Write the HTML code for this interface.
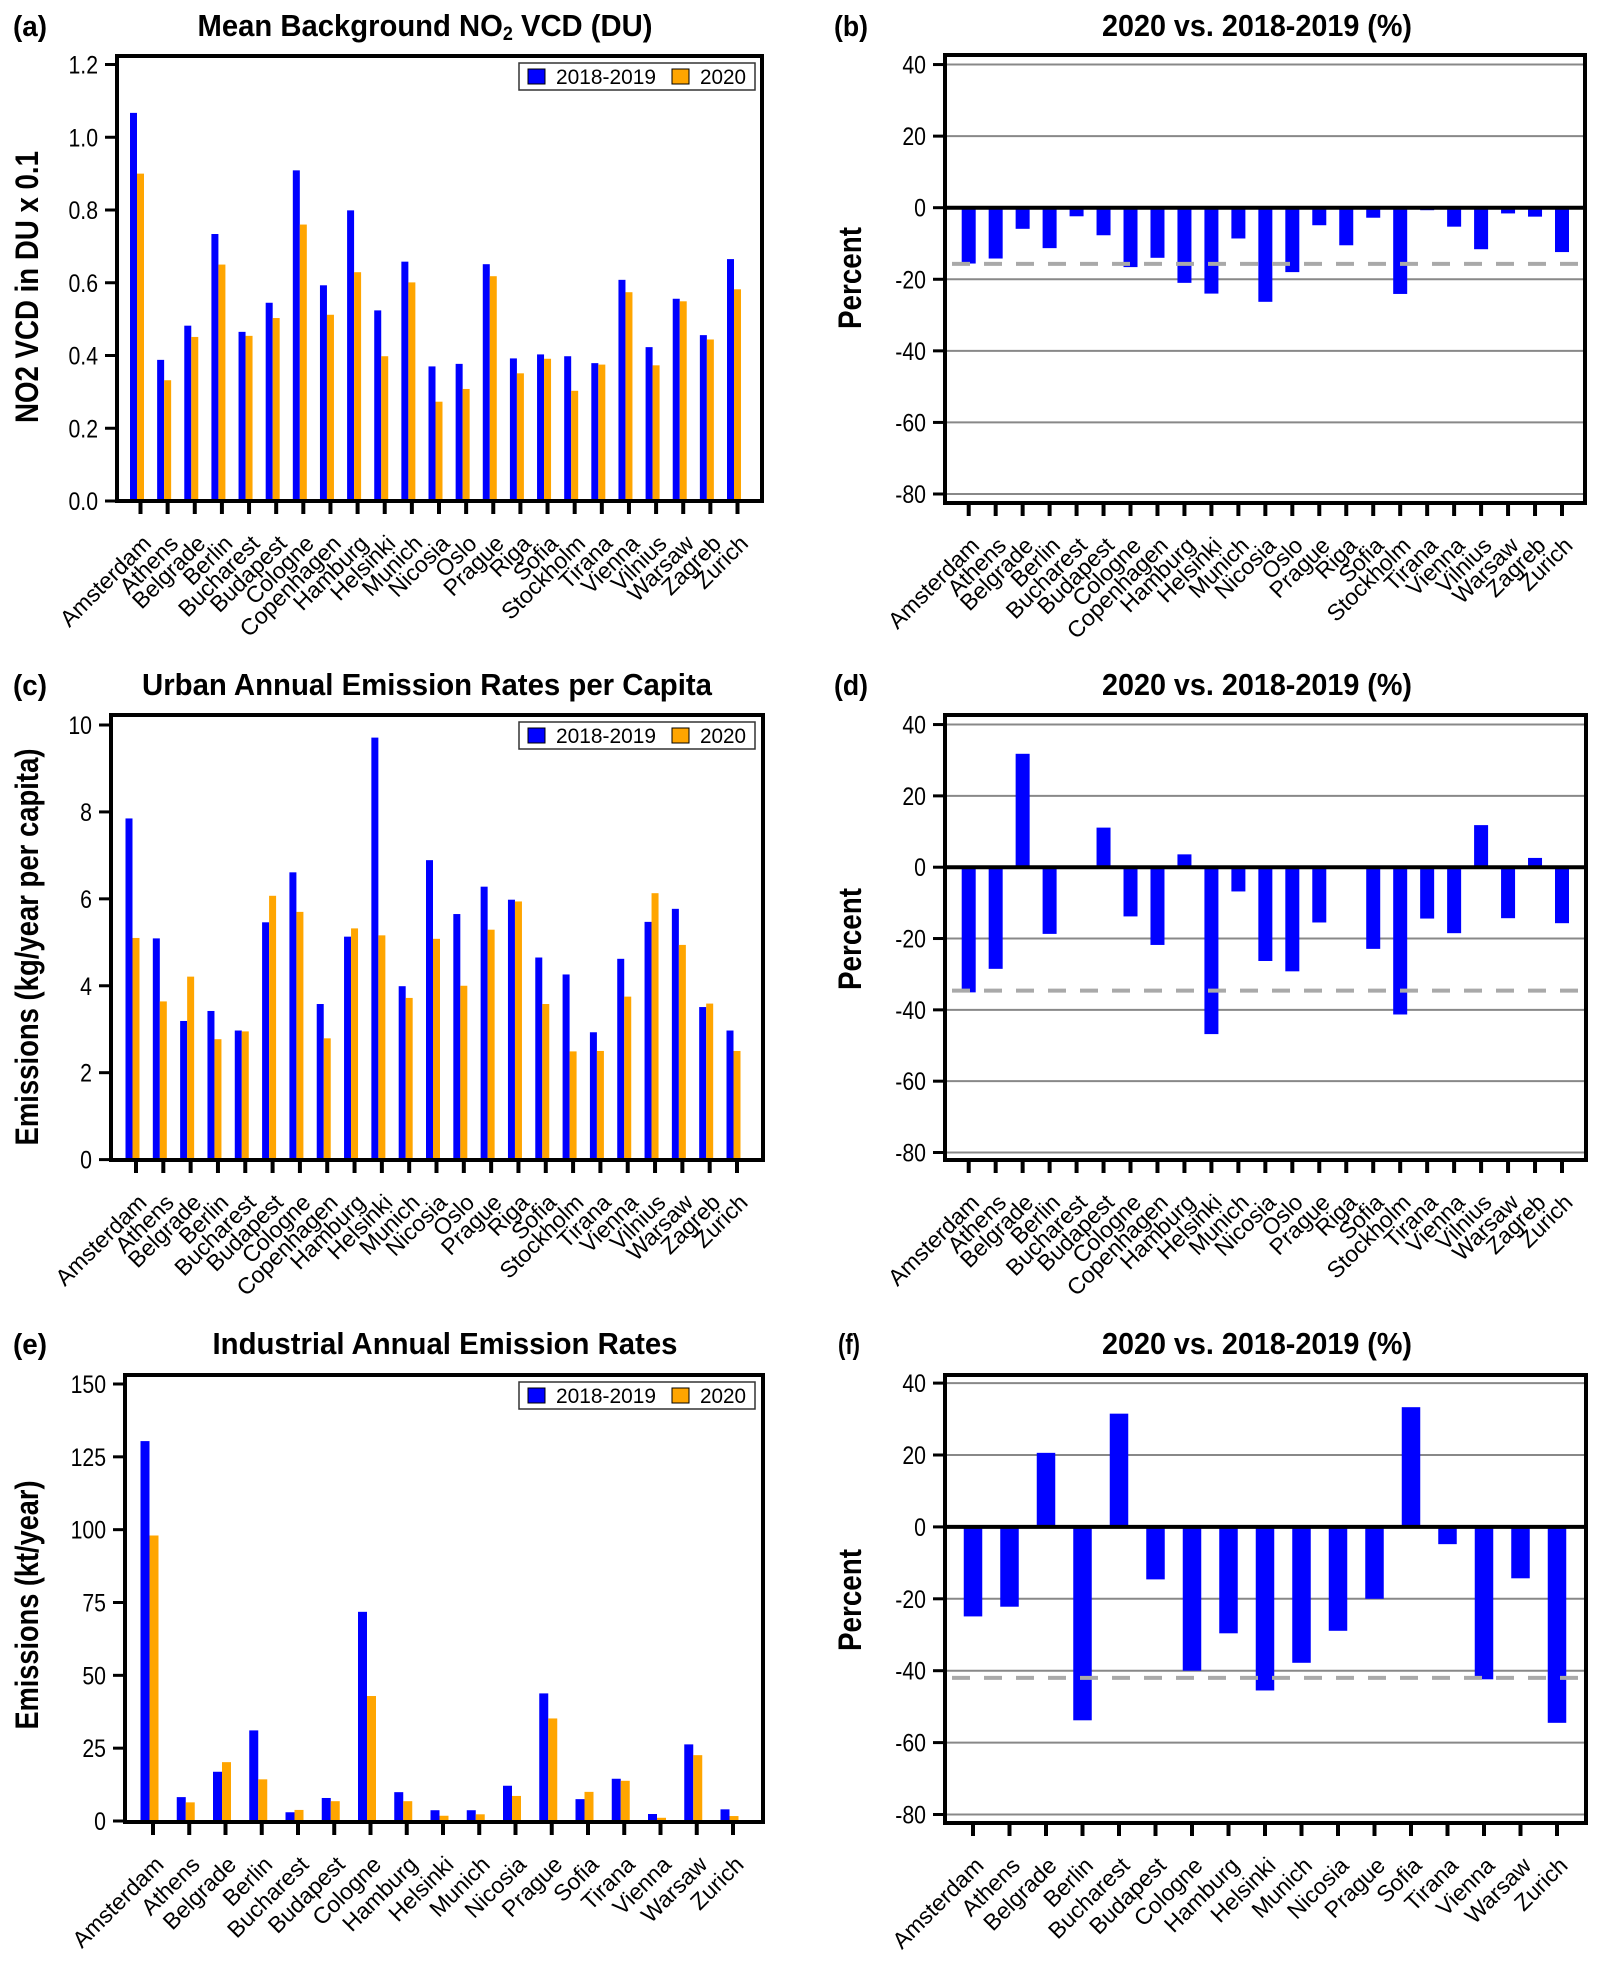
<!DOCTYPE html>
<html><head><meta charset="utf-8"><style>
html,body{margin:0;padding:0;background:#fff;overflow:hidden;}
svg{display:block;}
text{font-family:"Liberation Sans",Arial,sans-serif;fill:#000;}
.b{font-weight:bold;}
</style></head><body>
<svg id="fig" xmlns="http://www.w3.org/2000/svg" width="1600" height="1968" viewBox="0 0 1600 1968"></svg>
<script>
const cities25 = ["Amsterdam","Athens","Belgrade","Berlin","Bucharest","Budapest","Cologne","Copenhagen","Hamburg","Helsinki","Munich","Nicosia","Oslo","Prague","Riga","Sofia","Stockholm","Tirana","Vienna","Vilnius","Warsaw","Zagreb","Zurich"];
const cities17 = ["Amsterdam","Athens","Belgrade","Berlin","Bucharest","Budapest","Cologne","Hamburg","Helsinki","Munich","Nicosia","Prague","Sofia","Tirana","Vienna","Warsaw","Zurich"];
const aBlue = [1.067,0.388,0.482,0.734,0.465,0.545,0.909,0.593,0.799,0.524,0.658,0.370,0.377,0.651,0.392,0.403,0.398,0.379,0.608,0.423,0.556,0.456,0.665];
const aOrange = [0.900,0.332,0.451,0.650,0.454,0.503,0.760,0.512,0.629,0.398,0.601,0.273,0.308,0.618,0.351,0.391,0.303,0.375,0.574,0.373,0.549,0.444,0.582];
const bPct = [-15.6,-14.2,-5.9,-11.3,-2.4,-7.7,-16.6,-14.0,-21.0,-24.0,-8.6,-26.3,-18.0,-4.9,-10.5,-2.8,-24.1,-0.7,-5.3,-11.6,-1.6,-2.5,-12.4];
const bMean = -15.7;
const cBlue = [7.85,5.09,3.19,3.42,2.97,5.46,6.61,3.58,5.13,9.71,3.99,6.89,5.65,6.28,5.98,4.65,4.26,2.93,4.62,5.47,5.77,3.51,2.97];
const cOrange = [5.10,3.64,4.21,2.77,2.95,6.07,5.70,2.79,5.32,5.16,3.72,5.08,4.00,5.29,5.94,3.58,2.49,2.50,3.75,6.13,4.94,3.59,2.50];
const dPct = [-35.1,-28.5,31.8,-18.7,-0.5,11.1,-13.8,-21.8,3.6,-46.8,-6.8,-26.3,-29.2,-15.5,0,-22.9,-41.3,-14.4,-18.5,11.8,-14.3,2.6,-15.7];
const dMean = -34.6;
const eBlue = [130.4,8.2,16.9,31.1,3.0,7.9,71.8,9.9,3.7,3.7,12.1,43.8,7.5,14.5,2.4,26.3,4.0];
const eOrange = [98.0,6.4,20.2,14.3,3.8,6.8,42.9,6.8,1.8,2.3,8.6,35.2,10.0,13.8,1.1,22.6,1.7];
const fPct = [-24.9,-22.2,20.6,-53.8,31.5,-14.6,-40.0,-29.6,-45.5,-37.8,-28.9,-20.0,33.3,-4.8,-42.4,-14.3,-54.5];
const fMean = -42.0;
const ticksA = [0,0.2,0.4,0.6,0.8,1.0,1.2];
const tickLabelsA = ["0.0","0.2","0.4","0.6","0.8","1.0","1.2"];
const ticksC = [0,2,4,6,8,10];
const ticksE = [0,25,50,75,100,125,150];
const ticksPct = [-80,-60,-40,-20,0,20,40];
const legendLabels = ["2018-2019","2020"];

const NS="http://www.w3.org/2000/svg";
const svg=document.getElementById('fig');
function mk(tag,attrs,parent,txt){const e=document.createElementNS(NS,tag);for(const k in attrs)e.setAttribute(k,attrs[k]);if(txt!==undefined)e.textContent=txt;(parent||svg).appendChild(e);return e;}
function lin(d0,d1,r0,r1){return v=>r0+(v-d0)/(d1-d0)*(r1-r0);}

function frameAndAxes(g,P,ticks,labels,yScale){
  if(P.grid){
    ticks.forEach(t=>{
      const l=mk('line',{x1:P.L,x2:P.R,y1:yScale(t),y2:yScale(t),stroke:'#888','stroke-width':2},g);
      
      
    });
  }
  ticks.forEach((t,i)=>{
    const y=yScale(t);
    const tk=mk('line',{x1:P.L-12,x2:P.L,y1:y,y2:y,stroke:'#000','stroke-width':3},g);
    
    
    const tl=mk('text',{x:0,y:0,'text-anchor':'end','font-size':25,transform:`translate(${P.L-19} ${y+9}) scale(0.85 1)`},g,labels?labels[i]:String(t));
    
    
  });
}

function xLabels(g,P,cats,xs){
  cats.forEach((c,i)=>{
    const x=xs(i);
    const tk=mk('line',{x1:x,x2:x,y1:P.B,y2:P.B+13,stroke:'#000','stroke-width':4},g);
    
    
    const ax=x+12, ay=P.B+44;
    const t=mk('text',{x:ax,y:ay,'text-anchor':'end','font-size':23,transform:`rotate(-45 ${ax} ${ay})`},g,c);
    
    
  });
}

function titles(g,P){
  const lab=mk('text',{x:P.labX,y:P.titleY,'font-size':29,'class':'b',textLength:P.label==='(f)'?22:34,lengthAdjust:'spacingAndGlyphs'},g,P.label);
  
  
  const tt=mk('text',{x:P.titleX,y:P.titleY,'text-anchor':'middle','font-size':31,'class':'b',textLength:P.titleW,lengthAdjust:'spacingAndGlyphs'},g);
  
  
  if(P.sub){
    mk('tspan',{},tt,'Mean Background NO');
    mk('tspan',{'font-size':19,dy:4},tt,'2');
    mk('tspan',{dy:-4},tt,' VCD (DU)');
  } else tt.textContent=P.title;
  const cy=P.ytY, cx=P.ytX;
  const yt=mk('text',{x:cx,y:cy,'text-anchor':'middle','font-size':P.ytSize,'class':'b',transform:`rotate(-90 ${cx} ${cy})`,textLength:P.ytW,lengthAdjust:'spacingAndGlyphs'},g,P.ytitle);
  
  
}

function frame(g,P){
  const f=mk('rect',{x:P.L,y:P.T,width:P.R-P.L,height:P.B-P.T,fill:'none',stroke:'#000','stroke-width':4},g);
  
  
}

function legend(g,P){
  const lg=mk('g',{},g);
  
  
  mk('rect',{x:519,y:P.T+7,width:236,height:27,fill:'#fff',stroke:'#333','stroke-width':1.5},lg);
  const e1=mk('g',{},lg);
  
  
  mk('rect',{x:528,y:P.T+13,width:17,height:15,fill:'#0000ff',stroke:'#000','stroke-width':1},e1);
  mk('text',{x:556,y:P.T+28,'font-size':21,textLength:100,lengthAdjust:'spacingAndGlyphs'},e1,legendLabels[0]);
  const e2=mk('g',{},lg);
  
  
  mk('rect',{x:672,y:P.T+13,width:17,height:15,fill:'#ffa500',stroke:'#000','stroke-width':1},e2);
  mk('text',{x:700,y:P.T+28,'font-size':21,textLength:46,lengthAdjust:'spacingAndGlyphs'},e2,legendLabels[1]);
}

function groupedPanel(P,cats,blue,orange,ticks,labels){
  const g=mk('g',{});
  
  
  const y=lin(0,P.ymax,P.y0,P.yTop);
  const xs=lin(0,cats.length-1,P.x0,P.x1);
  frameAndAxes(g,P,ticks,labels,y);
  blue.forEach((v,i)=>{
    const cx=xs(i)-3.5;
    const r=mk('rect',{x:cx-P.bw,y:y(v),width:P.bw,height:y(0)-y(v),fill:'#0000ff'},g);
    
    
  });
  orange.forEach((v,i)=>{
    const cx=xs(i)-3.5;
    const r=mk('rect',{x:cx,y:y(v),width:P.bw,height:y(0)-y(v),fill:'#ffa500'},g);
    
    
  });
  frame(g,P);
  xLabels(g,P,cats,xs);
  legend(g,P);
  titles(g,P);
}

function pctPanel(P,cats,vals,mean){
  const g=mk('g',{});
  
  
  P.grid=true;
  const y=lin(0,-80,P.y0,P.yBot);
  const xs=lin(0,cats.length-1,P.x0,P.x1);
  frameAndAxes(g,P,ticksPct,null,y);
  vals.forEach((v,i)=>{
    const top=Math.min(y(v),y(0)), h=Math.abs(y(v)-y(0));
    const r=mk('rect',{x:xs(i)-P.bw/2,y:top,width:P.bw,height:Math.max(h,1),fill:'#0000ff'},g);
    
    
  });
  const z=mk('line',{x1:P.L,x2:P.R,y1:y(0),y2:y(0),stroke:'#000','stroke-width':4},g);
  
  
  const m=mk('line',{x1:P.L+7,x2:P.R-4,y1:y(mean),y2:y(mean),stroke:'#a9a9a9','stroke-width':4,'stroke-dasharray':'18 14'},g);
  
  
  frame(g,P);
  xLabels(g,P,cats,xs);
  titles(g,P);
}

groupedPanel({name:'panel-a',L:117,R:762,T:56,B:501,y0:501,yTop:64.5,ymax:1.2,x0:140.5,x1:737.5,bw:7,
  label:'(a)',labX:13,titleY:36,titleX:425,titleW:455,sub:true,
  ytitle:'NO2 VCD in DU x 0.1',ytX:38,ytY:287,ytSize:32,ytW:272},cities25,aBlue,aOrange,ticksA,tickLabelsA);
pctPanel({name:'panel-b',L:945,R:1585,T:55,B:503,y0:207.7,yBot:494,x0:968.7,x1:1562,bw:14,
  label:'(b)',labX:834,titleY:36,titleX:1257,titleW:310,title:'2020 vs. 2018-2019 (%)',
  ytitle:'Percent',ytX:861,ytY:278,ytSize:32,ytW:102},cities25,bPct,bMean);
groupedPanel({name:'panel-c',L:111,R:763,T:715,B:1160,y0:1159.6,yTop:725,ymax:10,x0:136,x1:737,bw:7,
  label:'(c)',labX:13,titleY:695,titleX:427,titleW:570,title:'Urban Annual Emission Rates per Capita',
  ytitle:'Emissions (kg/year per capita)',ytX:38,ytY:947,ytSize:32,ytW:397},cities25,cBlue,cOrange,ticksC,null);
pctPanel({name:'panel-d',L:945,R:1586,T:715,B:1160,y0:867.2,yBot:1152.5,x0:968.7,x1:1562,bw:14,
  label:'(d)',labX:834,titleY:695,titleX:1257,titleW:310,title:'2020 vs. 2018-2019 (%)',
  ytitle:'Percent',ytX:861,ytY:939,ytSize:32,ytW:102},cities25,dPct,dMean);
groupedPanel({name:'panel-e',L:125,R:763,T:1375,B:1822,y0:1821,yTop:1384,ymax:150,x0:153,x1:733,bw:9,
  label:'(e)',labX:13,titleY:1354,titleX:445,titleW:465,title:'Industrial Annual Emission Rates',
  ytitle:'Emissions (kt/year)',ytX:38,ytY:1605,ytSize:32,ytW:249},cities17,eBlue,eOrange,ticksE,null);
pctPanel({name:'panel-f',L:945,R:1586,T:1375,B:1823,y0:1526.9,yBot:1814.5,x0:973,x1:1557,bw:18.5,
  label:'(f)',labX:838,titleY:1354,titleX:1257,titleW:310,title:'2020 vs. 2018-2019 (%)',
  ytitle:'Percent',ytX:861,ytY:1600,ytSize:32,ytW:102},cities17,fPct,fMean);
</script>
</body></html>
